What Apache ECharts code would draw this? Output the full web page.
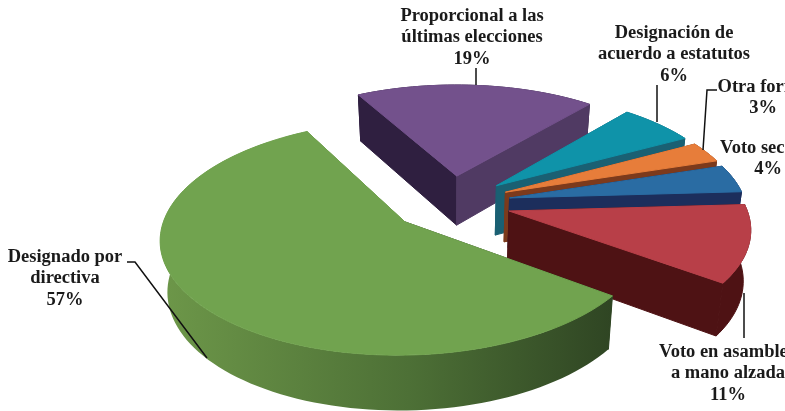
<!DOCTYPE html>
<html><head><meta charset="utf-8">
<style>html,body{margin:0;padding:0;background:#fff}#c{width:785px;height:411px}</style>
<script src="https://cdn.jsdelivr.net/npm/echarts@6/dist/echarts.min.js"></script>
</head><body><div id="c"></div>
<script>
const categories = ['Proporcional a las\núltimas elecciones','Designación de\nacuerdo a estatutos','Otra forma','Voto secreto','Voto en asamblea\na mano alzada','Designado por\ndirectiva'];
const values = [19,6,3,4,11,57];
const topColors = ['#73518c','#0f93a9','#e77d3a','#2a6ca3','#b83f48','#71a34f'];
const sideColors = ['#2f1f40','#1a6073','#7c3a1c','#1c2e5c','#4e1214','#2f4523'];
const sideColors2 = ['#503a63','#1a6073','#7c3a1c','#1c2e5c','#4e1214','#6d9749'];
const labelAnchors = [[472,5],[674,22],[763,76],[768,137],[728,341],[65,246]];
const leaders = [
  [[476,68],[476,85]],
  [[657,85],[657,122]],
  [[717,90],[707,90],[703,150]],
  [],
  [[744,293],[744,338]],
  [[127,262],[135,262],[207,358]]
];
const START = 241.5, X0 = 451, Y0 = 203, R = 236, RT = 110, P = 0.134, E = 0.254;
const total = values.reduce((a,b)=>a+b,0);
const rad = d => d*Math.PI/180;
function proj(x,y){const w=1/(1-P*y);return [X0+R*x*w,Y0+RT*y*w];}
function bottomOf(p){const d=p[1]-Y0;return [X0+.975*(p[0]-X0),Y0+.975*d+50+.06*d];}

function renderItem(params, api){
  const i = params.dataIndex;
  let a0 = START;
  for(let k=0;k<i;k++) a0 += values[k]/total*360;
  const a1 = a0 + api.value(0)/total*360;
  const mid = rad((a0+a1)/2), ox = E*Math.cos(mid), oy = E*Math.sin(mid);
  const apex = proj(ox,oy);
  const arc = [];
  for(let t=a0;;t+=2){
    const a = rad(Math.min(t,a1));
    arc.push(proj(ox+Math.cos(a),oy+Math.sin(a)));
    if(t>=a1) break;
  }
  const arcB = arc.map(bottomOf), apexB = bottomOf(apex);
  const first = arc[0], last = arc[arc.length-1];
  const children = [];
  const poly = (pts,fill)=>({type:'polygon',shape:{points:pts},style:{fill,stroke:typeof fill==='string'?fill:null,lineWidth:1}});
  const gradR = new echarts.graphic.LinearGradient(1,0,0,0,[
    {offset:0,color:sideColors[i]},{offset:.45,color:'#4d7036'},{offset:1,color:sideColors2[i]}]);
  const arcWall = poly(arc.concat(arcB.slice().reverse()), i===5?gradR:sideColors[i]);
  const firstFace = poly([apex,first,arcB[0],apexB], sideColors[i]);
  const lastFace = poly([apex,last,arcB[arcB.length-1],apexB], sideColors2[i]);
  if(oy>0) children.push(firstFace,arcWall,lastFace);
  else children.push(arcWall,firstFace,lastFace);
  children.push(poly([apex].concat(arc), topColors[i]));
  if(leaders[i].length) children.push({type:'polyline',z2:5,shape:{points:leaders[i]},style:{stroke:'#111',lineWidth:1.5,fill:null}});
  children.push({type:'text',z2:6,x:labelAnchors[i][0],y:labelAnchors[i][1],style:{
    text:categories[i]+'\n'+api.value(0)+'%',
    font:'bold 18.5px "Liberation Serif"',fill:'#1a1a1a',align:'center',verticalAlign:'top',lineHeight:21.5}});
  return {type:'group',children};
}
const chart = echarts.init(document.getElementById('c'),null,{renderer:'canvas',width:785,height:411});
chart.setOption({animation:false,series:[{type:'custom',coordinateSystem:'none',renderItem,data:values.map(v=>[v]),silent:true,clip:false}]});
</script></body></html>
